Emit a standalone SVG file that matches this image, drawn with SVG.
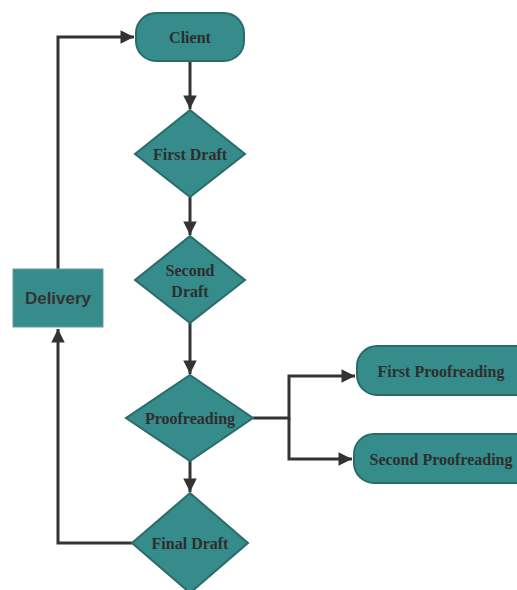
<svg xmlns="http://www.w3.org/2000/svg" width="517" height="590" viewBox="0 0 517 590">
<defs>
<style>
.n{fill:#368b8b;stroke:#2a6b6b;stroke-width:2}
.t{font-family:"Liberation Serif","Times New Roman",serif;font-weight:bold;font-size:16px;fill:#2e2e2e;text-anchor:middle;dominant-baseline:central}
.s{font-family:"Liberation Sans",Arial,sans-serif;font-weight:bold;font-size:17px;fill:#333;text-anchor:middle;dominant-baseline:central}
.c{fill:none;stroke:#333;stroke-width:3}
</style>
<marker id="a" viewBox="0 0 10 10" refX="10" refY="5" markerWidth="5.5" markerHeight="4.5" orient="auto" markerUnits="strokeWidth">
<path d="M0,0 L10,5 L0,10 z" fill="#333"/>
</marker>
</defs>
<g id="connectors">
<path class="c" d="M190,61 V109" marker-end="url(#a)"/>
<path class="c" d="M190,197 V235" marker-end="url(#a)"/>
<path class="c" d="M190,323 V374" marker-end="url(#a)"/>
<path class="c" d="M190,461 V492" marker-end="url(#a)"/>
<path class="c" d="M253,418 H289 V376 H355" marker-end="url(#a)"/>
<path class="c" d="M289,418 V459 H352" marker-end="url(#a)"/>
<path class="c" d="M132,543 H58 V329" marker-end="url(#a)"/>
<path class="c" d="M58,269 V37 H134" marker-end="url(#a)"/>
</g>
<g id="client"><rect class="n" x="136" y="13" width="108" height="48" rx="20"/><text class="t" x="190" y="37">Client</text></g>
<g id="first-draft"><polygon class="n" points="190,110 245,154 190,197 135,154"/><text class="t" x="190" y="154">First Draft</text></g>
<g id="second-draft"><polygon class="n" points="190,236 245,280 190,323 135,280"/><text class="t" x="190" y="270">Second</text><text class="t" x="190" y="291">Draft</text></g>
<g id="proofreading"><polygon class="n" points="190,375 253,418 190,461 126,418"/><text class="t" x="190" y="418">Proofreading</text></g>
<g id="final-draft"><polygon class="n" points="190,493 248,543 190,593 132,543"/><text class="t" x="190" y="543">Final Draft</text></g>
<g id="delivery"><rect x="13" y="269" width="90" height="58" fill="#368b8b" stroke="#6a9a9a" stroke-width="1"/><text class="s" x="58" y="298">Delivery</text></g>
<g id="first-proofreading"><rect class="n" x="357" y="346" width="180" height="49" rx="20"/><text class="t" x="441" y="371">First Proofreading</text></g>
<g id="second-proofreading"><rect class="n" x="354" y="434" width="183" height="49" rx="20"/><text class="t" x="441" y="459">Second Proofreading</text></g>
</svg>
